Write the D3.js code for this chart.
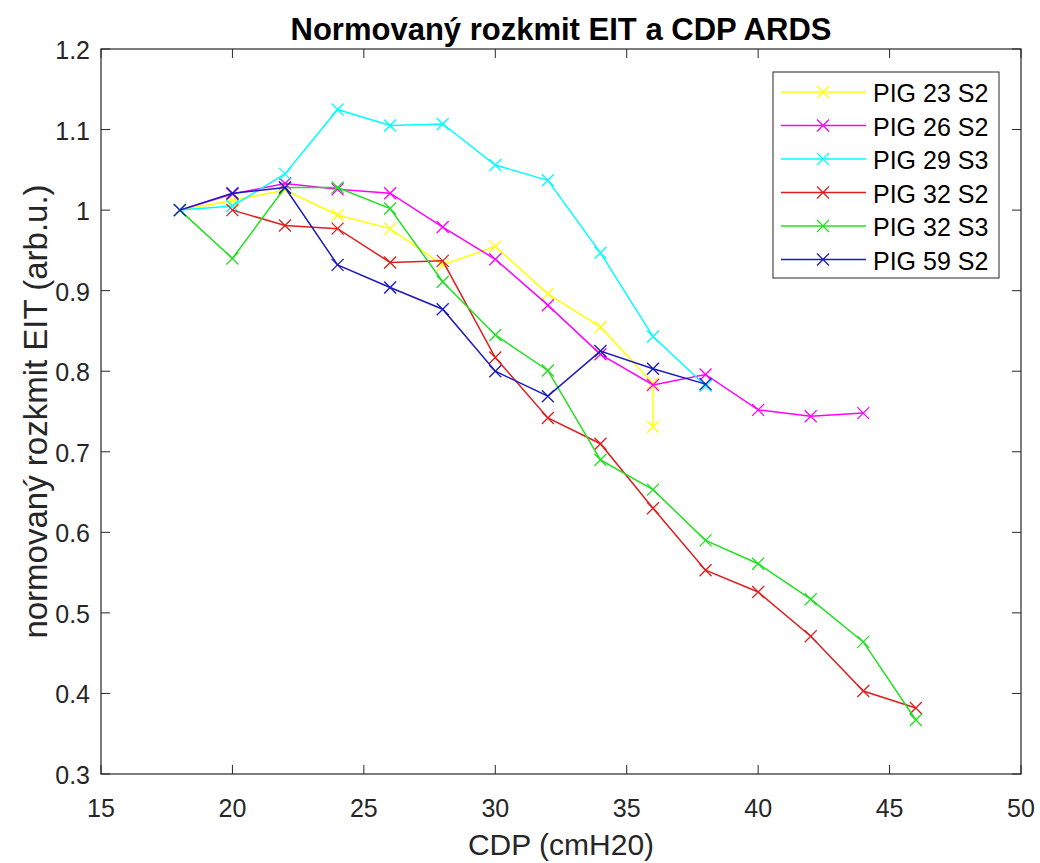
<!DOCTYPE html>
<html><head><meta charset="utf-8">
<script src="https://cdn.jsdelivr.net/npm/d3@7"></script>
<style>body{margin:0;background:#fff}svg{display:block}text{font-family:"Liberation Sans",Arial,sans-serif}</style>
</head><body>
<script>
const seriesNames = ["PIG 23 S2","PIG 26 S2","PIG 29 S3","PIG 32 S2","PIG 32 S3","PIG 59 S2"];
const seriesColors = ["#ffff00","#ff00ff","#00ffff","#e01e1e","#1fe01f","#1a1ac0"];
const pig23s2_x = [18,20,22,24,26,28,30,32,34,36,36];
const pig23s2_y = [1.0,1.012,1.025,0.994,0.977,0.932,0.955,0.896,0.855,0.785,0.731];
const pig26s2_x = [18,20,22,24,26,28,30,32,34,36,38,40,42,44];
const pig26s2_y = [1.0,1.02,1.033,1.026,1.021,0.979,0.939,0.882,0.821,0.783,0.796,0.752,0.744,0.748];
const pig29s3_x = [18,20,22,24,26,28,30,32,34,36,38];
const pig29s3_y = [1.0,1.005,1.045,1.125,1.105,1.107,1.056,1.037,0.947,0.843,0.782];
const pig32s2_x = [20,22,24,26,28,30,32,34,36,38,40,42,44,46];
const pig32s2_y = [1.0,0.981,0.977,0.935,0.937,0.817,0.742,0.71,0.63,0.553,0.526,0.471,0.403,0.382];
const pig32s3_x = [18,20,22,24,26,28,30,32,34,36,38,40,42,44,46];
const pig32s3_y = [1.0,0.94,1.028,1.028,1.002,0.911,0.845,0.801,0.69,0.653,0.59,0.561,0.517,0.464,0.367];
const pig59s2_x = [18,20,22,24,26,28,30,32,34,36,38];
const pig59s2_y = [1.0,1.021,1.028,0.932,0.904,0.877,0.8,0.769,0.825,0.803,0.784];
const xTicks = [15,20,25,30,35,40,45,50];
const yTicks = [0.3,0.4,0.5,0.6,0.7,0.8,0.9,1.0,1.1,1.2];
const titleText = "Normovaný rozkmit EIT a CDP ARDS";
const xLabel = "CDP (cmH20)";
const yLabel = "normovaný rozkmit EIT (arb.u.)";

const xs = [pig23s2_x,pig26s2_x,pig29s3_x,pig32s2_x,pig32s3_x,pig59s2_x];
const ys = [pig23s2_y,pig26s2_y,pig29s3_y,pig32s2_y,pig32s3_y,pig59s2_y];

const W=1040,H=863;
const L=101,R=1021,T=49,B=774;
const svg=d3.select("body").append("svg").attr("width",W).attr("height",H);
const x=d3.scaleLinear().domain([15,50]).range([L,R]);
const y=d3.scaleLinear().domain([0.3,1.2]).range([B,T]);
const axc="#262626";

const tl=9;
const g=svg.append("g");
xTicks.forEach(t=>{
  g.append("line").attr("x1",x(t)).attr("x2",x(t)).attr("y1",B).attr("y2",B-tl).attr("stroke",axc);
  g.append("line").attr("x1",x(t)).attr("x2",x(t)).attr("y1",T).attr("y2",T+tl).attr("stroke",axc);
  g.append("text").attr("x",x(t)).attr("y",B+43).attr("text-anchor","middle").attr("font-size",25).attr("fill",axc).text(t);
});
yTicks.forEach(t=>{
  g.append("line").attr("x1",L).attr("x2",L+tl).attr("y1",y(t)).attr("y2",y(t)).attr("stroke",axc);
  g.append("line").attr("x1",R).attr("x2",R-tl).attr("y1",y(t)).attr("y2",y(t)).attr("stroke",axc);
  g.append("text").attr("x",L-11).attr("y",y(t)+10).attr("text-anchor","end").attr("font-size",25).attr("fill",axc).text(d3.format("~g")(+t.toFixed(1)));
});
g.append("rect").attr("x",L).attr("y",T).attr("width",R-L).attr("height",B-T).attr("fill","none").attr("stroke",axc).attr("stroke-width",1.2);

const line=d3.line().x(d=>x(d[0])).y(d=>y(d[1]));
const ms=6;
function xmark(sel,cx,cy,col){
  sel.append("path").attr("d",`M${cx-ms},${cy-ms}L${cx+ms},${cy+ms}M${cx-ms},${cy+ms}L${cx+ms},${cy-ms}`).attr("stroke",col).attr("stroke-width",1.3).attr("fill","none");
}
seriesNames.forEach((n,i)=>{
  const pts=xs[i].map((v,j)=>[v,ys[i][j]]);
  const sg=svg.append("g");
  sg.append("path").datum(pts).attr("d",line).attr("fill","none").attr("stroke",seriesColors[i]).attr("stroke-width",1.5);
  pts.forEach(p=>xmark(sg,x(p[0]),y(p[1]),seriesColors[i]));
});

const lx=773,ly=72,lw=226,lh=206;
svg.append("rect").attr("x",lx).attr("y",ly).attr("width",lw).attr("height",lh).attr("fill","#fff").attr("stroke",axc).attr("stroke-width",1);
seriesNames.forEach((n,i)=>{
  const ry=ly+20+i*33.5;
  svg.append("line").attr("x1",lx+8).attr("x2",lx+93).attr("y1",ry).attr("y2",ry).attr("stroke",seriesColors[i]).attr("stroke-width",1.5);
  xmark(svg,lx+50,ry,seriesColors[i]);
  svg.append("text").attr("x",lx+100).attr("y",ry+10).attr("font-size",25).attr("fill","#000").text(n);
});

svg.append("text").attr("x",(L+R)/2).attr("y",40).attr("text-anchor","middle").attr("font-size",31).attr("font-weight","bold").attr("fill","#000").text(titleText);
svg.append("text").attr("x",(L+R)/2).attr("y",855).attr("text-anchor","middle").attr("font-size",30).attr("fill",axc).text(xLabel);
svg.append("text").attr("transform",`translate(47,${(T+B)/2}) rotate(-90)`).attr("text-anchor","middle").attr("font-size",33).attr("fill",axc).text(yLabel);
</script>
</body></html>
